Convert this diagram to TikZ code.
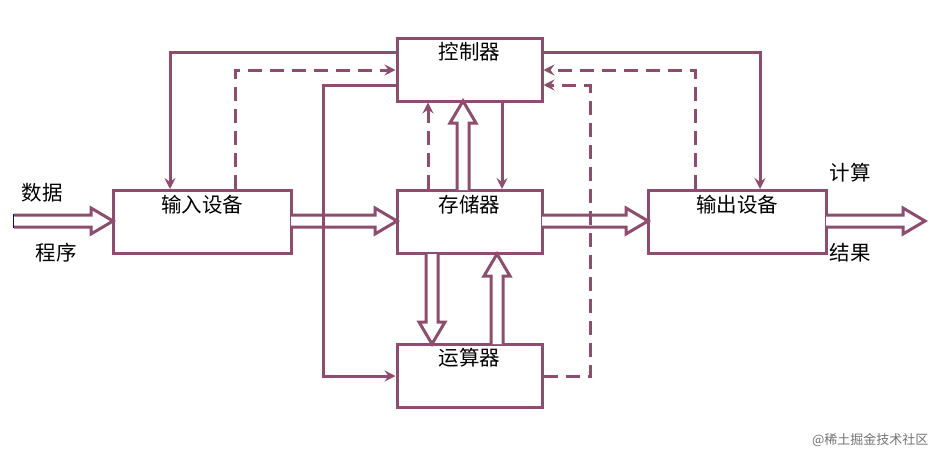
\documentclass[tikz,border=0pt]{standalone}
\usepackage{fontspec}
\newfontfamily\cjk{Noto Sans CJK SC}
\usetikzlibrary{arrows.meta}
\definecolor{mv}{HTML}{8E4D6E}
\newcommand\bt[1]{\raisebox{10pt}[0pt][0pt]{#1}}
\newcommand\hharrow[3]{% x1 x2 y
  \draw[hollow] (#1,#3-6) -- (#2-22,#3-6) -- (#2-22,#3-13) -- (#2,#3) -- (#2-22,#3+13) -- (#2-22,#3+6) -- (#1,#3+6);}
\newcommand\vharrow[3]{% x y1 y2
  \draw[hollow] (#1-6,#2) -- (#1-6,{#3+(#2>#3?22:-22)}) -- (#1-13,{#3+(#2>#3?22:-22)}) -- (#1,#3) -- (#1+13,{#3+(#2>#3?22:-22)}) -- (#1+6,{#3+(#2>#3?22:-22)}) -- (#1+6,#2);}
\begin{document}
\begin{tikzpicture}[x=1pt,y=-1pt,
  box/.style={draw=mv,line width=3pt,minimum width=145pt,minimum height=63pt,font=\cjk\fontsize{20.5}{24}\selectfont,inner sep=0pt},
  wbox/.style={box,minimum width=178pt},
  ln/.style={draw=mv,line width=3pt,-{Stealth[length=11pt,width=11pt,inset=4pt]}},
  dl/.style={ln,dash pattern=on 14pt off 8pt},
  hollow/.style={draw=mv,line width=3pt,fill=white,line join=miter},
  lab/.style={font=\cjk\fontsize{20.5}{24}\selectfont,inner sep=0pt}]
\useasboundingbox (0,0) rectangle (945,466);
\node[box] (ctrl) at (469.5,69.5) {\bt{控制器}};
\node[wbox] (in) at (202,222) {\bt{输入设备}};
\node[box] (mem) at (469.5,222) {\bt{存储器}};
\node[wbox] (out) at (737,222) {\bt{输出设备}};
\node[box] (alu) at (469.5,375.5) {\bt{运算器}};
\node[lab] (t1) at (42,193) {数据};
\node[lab] (t2) at (56,253) {程序};
\node[lab] (t3) at (850,173) {计算};
\node[lab] (t4) at (850,253) {结果};
\node[font=\cjk\fontsize{13}{15}\selectfont,text=black!55,anchor=east] (wm) at (932,440) {@稀土掘金技术社区};
\draw[blue!70!black,line width=3pt] (14,214) -- (14,228);
% hollow arrows
\hharrow{14}{113}{221}
\hharrow{291}{397}{221}
\hharrow{542}{648}{221}
\hharrow{826}{925}{221}
\vharrow{463}{190}{101}
\vharrow{432}{254}{344}
\vharrow{497}{344}{254}
% solid
\draw[ln] (ctrl.west |- {(0,52)}) -| (in.north -| {(170,0)});
\draw[ln] (ctrl.west |- {(0,85)}) -- (323,85) -- (323,376) -- (alu.west |- {(0,376)});
\draw[ln] (ctrl.south -| {(502,0)}) -- (mem.north -| {(502,0)});
\draw[ln] (ctrl.east |- {(0,52)}) -| (out.north -| {(760,0)});
% dashed
\draw[dl] (in.north -| {(235,0)}) |- (ctrl.west |- {(0,70)});
\draw[dl] (mem.north -| {(428,0)}) -- (ctrl.south -| {(428,0)});
\draw[dl] (alu.east |- {(0,376)}) -| (590,85) -- (ctrl.east |- {(0,85)});
\draw[dl] (out.north -| {(695,0)}) |- (ctrl.east |- {(0,70)});
\end{tikzpicture}
\end{document}
